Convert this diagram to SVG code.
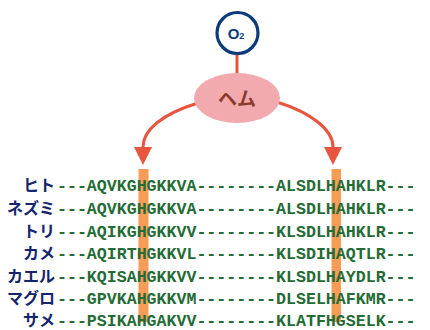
<svg xmlns="http://www.w3.org/2000/svg" width="430" height="330" viewBox="0 0 430 330">
<style>
.lbl{font-family:"Noto Sans CJK JP","Noto Sans",sans-serif;font-weight:bold;font-size:16px;fill:#15256b;text-anchor:end}
.seq{font-family:"Liberation Mono","Courier New",monospace;font-weight:bold;font-size:16.6px;fill:#246b36}
.bar{fill:#f79d58}
.conn{stroke:#e8553e;stroke-width:3;fill:none}
</style>
<defs>
<marker id="ah" markerUnits="userSpaceOnUse" viewBox="0 0 18 18" refX="0" refY="9" markerWidth="18" markerHeight="18" orient="auto">
<path d="M0,0 L18,9 L0,18 z" fill="#e8553e"/>
</marker>
</defs>
<g id="bars">
<rect class="bar" x="138.5" y="169" width="10" height="153"/>
<rect class="bar" x="331.5" y="169" width="9.5" height="153"/>
</g>
<g id="connectors">
<line class="conn" x1="237" y1="53" x2="237" y2="74"/>
<path class="conn" d="M198,103 C162,114 143,130 143,147" marker-end="url(#ah)"/>
<path class="conn" d="M277,102 C312,113 333,130 333,147" marker-end="url(#ah)"/>
</g>
<g id="o2">
<circle cx="237.5" cy="33" r="20.5" fill="#fff" stroke="#0d3a78" stroke-width="3.2"/>
<text x="236" y="39" font-family="'Liberation Sans',Arial,sans-serif" font-weight="bold" font-size="15" fill="#0d3a78" text-anchor="middle">O<tspan font-size="9" dy="0">2</tspan></text>
</g>
<g id="heme">
<ellipse cx="237" cy="98" rx="43" ry="25" fill="#f2aaae"/>
<text x="237" y="106" font-family="'Noto Sans CJK JP',sans-serif" font-weight="bold" font-size="19" fill="#8a3a2c" text-anchor="middle">ヘム</text>
</g>
<g id="rows">
<text class="lbl" x="55" y="191">ヒト</text>
<text class="seq" x="57" y="191">---AQVKGHGKKVA--------ALSDLHAHKLR---</text>
<text class="lbl" x="55" y="214">ネズミ</text>
<text class="seq" x="57" y="214">---AQVKGHGKKVA--------ALSDLHAHKLR---</text>
<text class="lbl" x="55" y="236.5">トリ</text>
<text class="seq" x="57" y="236.5">---AQIKGHGKKVV--------KLSDLHAHKLR---</text>
<text class="lbl" x="55" y="258.5">カメ</text>
<text class="seq" x="57" y="258.5">---AQIRTHGKKVL--------KLSDIHAQTLR---</text>
<text class="lbl" x="55" y="281.5">カエル</text>
<text class="seq" x="57" y="281.5">---KQISAHGKKVV--------KLSDLHAYDLR---</text>
<text class="lbl" x="55" y="303.5">マグロ</text>
<text class="seq" x="57" y="303.5">---GPVKAHGKKVM--------DLSELHAFKMR---</text>
<text class="lbl" x="55" y="326">サメ</text>
<text class="seq" x="57" y="326">---PSIKAHGAKVV--------KLATFHGSELK---</text>
</g>
</svg>
